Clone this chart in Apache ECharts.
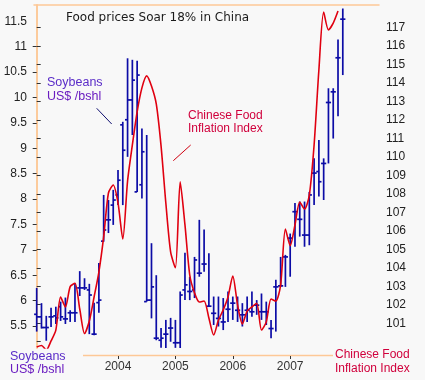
<!DOCTYPE html>
<html><head><meta charset="utf-8">
<script src="https://cdn.jsdelivr.net/npm/echarts@6/dist/echarts.min.js"></script>
<style>html,body{margin:0;padding:0;background:#f8f8f8}#c{width:425px;height:380px}</style>
</head><body><div id="c"></div>
<script>
// Months of the soybean HLC bars (monthly), Aug 2002 .. Dec 2007
const months = ['2002-08','2002-09','2002-10','2002-11','2002-12',
 '2003-01','2003-02','2003-03','2003-04','2003-05','2003-06','2003-07','2003-08','2003-09','2003-10','2003-11','2003-12',
 '2004-01','2004-02','2004-03','2004-04','2004-05','2004-06','2004-07','2004-08','2004-09','2004-10','2004-11','2004-12',
 '2005-01','2005-02','2005-03','2005-04','2005-05','2005-06','2005-07','2005-08','2005-09','2005-10','2005-11','2005-12',
 '2006-01','2006-02','2006-03','2006-04','2006-05','2006-06','2006-07','2006-08','2006-09','2006-10','2006-11','2006-12',
 '2007-01','2007-02','2007-03','2007-04','2007-05','2007-06','2007-07','2007-08','2007-09','2007-10','2007-11','2007-12'];

// Soybeans US$/bushel (left axis)
const soyOpen  = [5.73,5.68,5.47,5.68,5.70,5.88,5.64,5.76,5.76,6.25,6.25,6.21,5.34,5.96,7.17,7.59,7.88,8.08,9.46,9.56,9.95,8.14,8.28,5.98,6.01,5.26,5.22,5.34,5.46,5.17,5.17,6.21,6.18,6.21,6.54,6.72,5.89,5.75,5.65,5.58,5.83,5.95,5.81,5.72,5.81,5.78,5.91,5.78,5.78,5.45,6.27,6.29,6.86,7.23,7.75,7.60,7.29,7.29,8.51,8.54,8.70,9.90,10.11,10.78,11.54];
const soyHigh  = [6.25,5.95,5.70,5.86,5.88,5.98,6.06,5.81,6.34,6.58,6.44,6.33,5.96,6.74,8.08,7.98,8.18,8.57,9.52,10.77,10.74,10.72,9.39,9.26,7.13,6.50,5.46,5.62,5.66,5.62,6.18,6.94,6.47,6.86,7.59,7.40,6.93,6.08,6.08,6.05,6.18,6.08,6.08,5.95,6.08,6.18,6.01,6.14,5.98,5.62,6.41,6.86,6.90,7.32,7.92,7.95,7.95,8.14,8.80,9.16,8.80,10.18,10.18,11.14,11.75];
const soyLow   = [5.39,5.45,5.21,5.48,5.54,5.60,5.54,5.58,5.58,6.09,6.21,5.34,5.32,5.76,7.16,7.33,7.49,7.88,7.88,8.83,9.26,8.14,8.01,5.98,5.65,5.22,5.07,4.99,5.19,5.07,4.96,6.01,6.01,6.05,6.47,6.57,5.88,5.52,5.49,5.42,5.58,5.62,5.58,5.49,5.58,5.68,5.72,5.62,5.52,5.26,5.39,6.27,6.27,6.47,7.06,7.26,7.06,7.09,7.88,8.05,7.98,8.70,9.19,9.63,10.44];
const soyClose = [5.68,5.47,5.47,5.68,5.66,5.68,5.64,5.76,5.76,6.25,6.25,6.11,5.34,6.01,7.39,7.59,7.98,8.37,8.96,9.95,10.34,10.44,8.93,6.01,6.27,5.26,5.26,5.34,5.46,5.17,6.11,6.31,6.18,6.80,6.54,6.72,5.89,5.75,5.65,5.58,5.83,5.95,5.81,5.72,5.81,5.78,5.91,5.78,5.78,5.45,6.27,6.29,6.86,7.23,7.75,7.60,7.29,8.08,8.51,8.34,8.70,9.90,10.11,10.78,11.54];

// Chinese Food Inflation Index (right axis), Aug 2002 .. Nov 2007
const foodIndex = [99.71,99.79,99.55,100.04,100.63,102.42,101.88,102.98,103.16,101.77,100.44,101.12,102.42,103.77,105.67,108.05,108.48,107.51,105.56,108.7,110.65,112.44,113.74,114.39,113.84,112.87,110.6,107.51,104.86,104.0,108.65,106.32,103.61,102.64,102.15,102.2,101.28,100.36,101.17,101.72,102.42,103.56,101.99,100.96,101.66,101.88,102.08,100.63,101.07,102.31,102.2,103.07,106.1,105.2,106.32,107.56,107.18,107.94,110.65,114.71,117.85,116.88,117.25,117.9];

const yearLabels = ['2004','2005','2006','2007'];
const soyTickVals = [5.5,6,6.5,7,7.5,8,8.5,9,9.5,10,10.5,11];
const soyLabelVals = [5.5,6,6.5,7,7.5,8,8.5,9,9.5,10,10.5,11,11.5];
const foodTickVals = [100,101,102,103,104,105,106,107,108,109,110,111,112,113,114,115,116,117];
const foodLabelVals = [101,102,103,104,105,106,107,108,109,110,111,112,113,114,115,116,117];

const FONT = '"Liberation Sans", Arial, sans-serif';
const TFONT = '"DejaVu Sans", Verdana, sans-serif';
const FRAME = '#fdc896';
const yearIdx = yearLabels.map(y => months.indexOf(y + '-01'));
const soyData = months.map((m, i) => [i, soyOpen[i], soyHigh[i], soyLow[i], soyClose[i]]);
const foodData = foodIndex.map((v, i) => [i, v]);

const chart = echarts.init(document.getElementById('c'));
chart.setOption({
  backgroundColor: '#f8f8f8',
  animation: false,
  grid: {left: 34, right: 46, top: 5, bottom: 32},
  xAxis: [{
    type: 'value', min: -0.565, max: 71.57, position: 'bottom', offset: 8,
    axisLine: {show: false}, splitLine: {show: false},
    axisTick: {show: true, customValues: yearIdx, length: 3, lineStyle: {color: '#333'}},
    axisLabel: {customValues: yearIdx, formatter: v => yearLabels[yearIdx.indexOf(v)],
      color: '#333', fontSize: 12, fontFamily: FONT, margin: 5}
  }, {
    type: 'value', min: -0.565, max: 71.57, position: 'top',
    axisLine: {show: true, lineStyle: {color: FRAME, width: 1.5}},
    axisTick: {show: false}, axisLabel: {show: false}, splitLine: {show: false}
  }],
  yAxis: [{
    type: 'value', min: 5.067, max: 11.819, position: 'left',
    axisLine: {show: true, lineStyle: {color: FRAME, width: 1.5}},
    axisTick: {show: true, customValues: soyTickVals, length: 4, lineStyle: {color: '#333'}},
    axisLabel: {customValues: soyLabelVals, formatter: v => String(v), color: '#222',
      fontSize: 12, fontFamily: FONT, margin: 7},
    splitLine: {show: false}
  }, {
    type: 'value', min: 99.658, max: 118.229, position: 'right',
    axisLine: {show: true, lineStyle: {color: FRAME, width: 1.5}},
    axisTick: {show: true, customValues: foodTickVals, length: 4, lineStyle: {color: '#333'}},
    axisLabel: {customValues: foodLabelVals, formatter: v => String(v), color: '#222',
      fontSize: 12, fontFamily: FONT, margin: 7},
    splitLine: {show: false}
  }],
  series: [{
    type: 'custom', xAxisIndex: 0, yAxisIndex: 0, clip: true,
    encode: {x: 0, y: [1, 2, 3, 4]},
    data: soyData,
    renderItem: function (params, api) {
      const x = api.value(0);
      const pO = api.coord([x, api.value(1)]);
      const pH = api.coord([x, api.value(2)]);
      const pL = api.coord([x, api.value(3)]);
      const pC = api.coord([x, api.value(4)]);
      const w = 2.6;
      const st = {stroke: '#0c0ca6', lineWidth: 1.7};
      return {type: 'group', children: [
        {type: 'line', shape: {x1: pH[0], y1: pH[1], x2: pL[0], y2: pL[1]}, style: st},
        {type: 'line', shape: {x1: pO[0] - w, y1: pO[1], x2: pO[0], y2: pO[1]}, style: st},
        {type: 'line', shape: {x1: pC[0], y1: pC[1], x2: pC[0] + w, y2: pC[1]}, style: st}
      ]};
    },
    z: 2
  }, {
    type: 'line', xAxisIndex: 0, yAxisIndex: 1, data: foodData,
    showSymbol: false, smooth: 0.25,
    lineStyle: {color: '#e00010', width: 1.6}, z: 3
  }],
  graphic: [
    {type: 'text', x: 66, y: 18, style: {text: 'Food prices Soar 18% in China', font: '12px ' + TFONT, fill: '#1a1a1a', verticalAlign: 'middle'}},
    {type: 'text', x: 47, y: 82.5, style: {text: 'Soybeans', font: '12.5px ' + FONT, fill: '#5a2cc8', verticalAlign: 'middle'}},
    {type: 'text', x: 47, y: 96.5, style: {text: 'US$ /bshl', font: '12.5px ' + FONT, fill: '#6a1cc0', verticalAlign: 'middle'}},
    {type: 'line', shape: {x1: 96.7, y1: 108.3, x2: 111.7, y2: 124}, style: {stroke: '#101070', lineWidth: 1}},
    {type: 'text', x: 188, y: 116, style: {text: 'Chinese Food', font: '12px ' + FONT, fill: '#d0003c', verticalAlign: 'middle'}},
    {type: 'text', x: 188, y: 129, style: {text: 'Inflation Index', font: '12px ' + FONT, fill: '#d0003c', verticalAlign: 'middle'}},
    {type: 'line', shape: {x1: 173.3, y1: 160.7, x2: 190.7, y2: 145}, style: {stroke: '#d00010', lineWidth: 1}},
    {type: 'line', shape: {x1: 83, y1: 355.5, x2: 333, y2: 355.5}, style: {stroke: FRAME, lineWidth: 1.5}},
    {type: 'text', x: 10, y: 356.5, style: {text: 'Soybeans', font: '12.5px ' + FONT, fill: '#5a2cc8', verticalAlign: 'middle'}},
    {type: 'text', x: 10, y: 370, style: {text: 'US$ /bshl', font: '12.5px ' + FONT, fill: '#6a1cc0', verticalAlign: 'middle'}},
    {type: 'text', x: 335, y: 355, style: {text: 'Chinese Food', font: '12px ' + FONT, fill: '#d0003c', verticalAlign: 'middle'}},
    {type: 'text', x: 335, y: 368.5, style: {text: 'Inflation Index', font: '12px ' + FONT, fill: '#d0003c', verticalAlign: 'middle'}}
  ]
});
</script></body></html>
